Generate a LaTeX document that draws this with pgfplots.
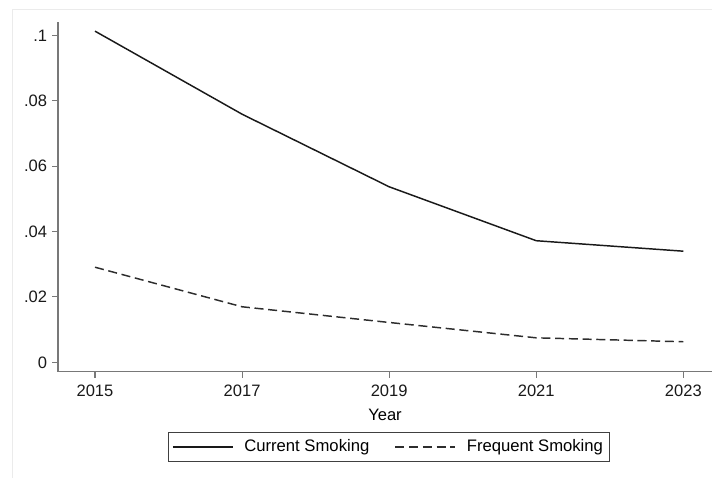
\documentclass[border=0pt]{standalone}
\usepackage{pgfplots}
\pgfplotsset{compat=1.18}
\usepackage{fontspec}
\setmainfont{Liberation Sans}

% Smoking prevalence by survey year
\pgfplotstableread{
year current frequent
2015 0.1013 0.0291
2017 0.0759 0.0170
2019 0.0537 0.0122
2021 0.0372 0.0075
2023 0.0340 0.0063
}\smoking

\definecolor{axisgray}{RGB}{120,120,120}
\definecolor{linedark}{RGB}{25,25,25}
\definecolor{dashdark}{RGB}{45,45,45}

\begin{document}
\begin{tikzpicture}
\begin{axis}[
  scale only axis,
  width=490.5pt, height=262.3pt,
  xmin=2014.497, xmax=2023.39,
  ymin=-0.00287, ymax=0.1041,
  axis x line*=bottom, axis y line*=left,
  axis line style={axisgray, line width=0.9pt, -},
  tick style={axisgray, line width=0.8pt},
  tick align=outside,
  major tick length=4.5pt,
  xtick={2015,2017,2019,2021,2023},
  xticklabels={2015,2017,2019,2021,2023},
  ytick={0,0.02,0.04,0.06,0.08,0.1},
  yticklabels={0,.02,.04,.06,.08,.1},
  ticklabel style={font=\fontsize{12.4pt}{14pt}\selectfont, text=black!90},
  yticklabel style={inner sep=0pt, anchor=east, xshift=-3.5pt},
  xticklabel style={inner sep=0pt, anchor=north, yshift=-5.5pt},
  xlabel={Year},
  xlabel style={font=\fontsize{12.4pt}{14pt}\selectfont, anchor=center, at={(axis description cs:0.5,0)}, yshift=-32.5pt},
  legend columns=2,
  legend style={
    at={(axis description cs:0.506,0)}, anchor=north, yshift=-45.2pt,
    draw=black!75, line width=0.6pt,
    font=\fontsize{12.5pt}{15pt}\selectfont,
    inner xsep=3pt, inner ysep=3.5pt,
    /tikz/every odd column/.append style={column sep=6pt},
    /tikz/every even column/.append style={column sep=17pt},
  },
  legend image code/.code={
    \draw[#1] (0pt,0pt) -- (45pt,0pt);
  },
  clip=false,
]
\addplot[linedark, line width=1.1pt] table[x=year, y=current] {\smoking};
\addlegendentry{Current Smoking}
\addplot[dashdark, line width=1.1pt, dash pattern=on 6.8pt off 3.5pt] table[x=year, y=frequent] {\smoking};
\addlegendentry{Frequent Smoking}
\end{axis}
% faint outer frame of the graph region
\draw[black!8, line width=0.6pt] (-34.5pt,-79.7pt) -- (-34.5pt,272pt) -- (490.5pt,272pt);
\pgfresetboundingbox
\useasboundingbox (-43.5pt,-79.7pt) rectangle (490.5pt,278.8pt);
\end{tikzpicture}
\end{document}
